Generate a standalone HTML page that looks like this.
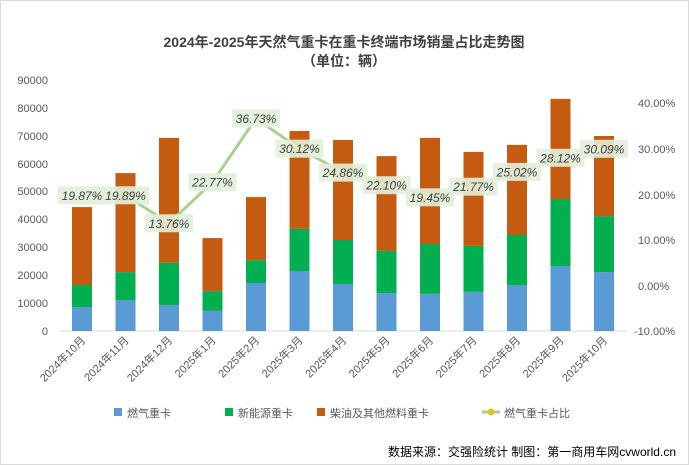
<!DOCTYPE html>
<html><head><meta charset="utf-8"><style>body{margin:0;background:#fff}svg{display:block}text{font-family:"Liberation Sans","Noto Sans CJK SC",sans-serif}</style></head><body>
<svg width="689" height="465" viewBox="0 0 689 465" xmlns="http://www.w3.org/2000/svg">
<rect x="0.5" y="0.5" width="688" height="464" fill="#fff" stroke="#d9d9d9"/>
<text x="344" y="47" text-anchor="middle" font-size="14" font-weight="bold" fill="#404040">2024年-2025年天然气重卡在重卡终端市场销量占比走势图</text>
<text x="344" y="66" text-anchor="middle" font-size="14" font-weight="bold" fill="#404040">（单位：辆）</text>
<g font-size="11" fill="#595959" text-anchor="end">
<text x="48" y="335">0</text><text x="48" y="307">10000</text><text x="48" y="279">20000</text><text x="48" y="251">30000</text><text x="48" y="223">40000</text><text x="48" y="195">50000</text><text x="48" y="168">60000</text><text x="48" y="140">70000</text><text x="48" y="112">80000</text><text x="48" y="84">90000</text>
</g>
<g font-size="11" fill="#595959">
<text x="638" y="107">40.00%</text><text x="638" y="153">30.00%</text><text x="638" y="199">20.00%</text><text x="638" y="244">10.00%</text><text x="638" y="290">0.00%</text><text x="634" y="335">-10.00%</text>
</g>
<line x1="60" y1="331" x2="626" y2="331" stroke="#d9d9d9"/>
<g>
<rect x="72" y="307" width="20" height="24" fill="#5b9bd5"/><rect x="72" y="285" width="20" height="22" fill="#00b050"/><rect x="72" y="207.1" width="20" height="77.9" fill="#c55a11"/>
<rect x="115.5" y="300" width="20" height="31" fill="#5b9bd5"/><rect x="115.5" y="272.1" width="20" height="27.9" fill="#00b050"/><rect x="115.5" y="173.1" width="20" height="99" fill="#c55a11"/>
<rect x="159" y="305.1" width="20" height="25.9" fill="#5b9bd5"/><rect x="159" y="262.9" width="20" height="42.2" fill="#00b050"/><rect x="159" y="137.9" width="20" height="125" fill="#c55a11"/>
<rect x="202.5" y="310.9" width="20" height="20.1" fill="#5b9bd5"/><rect x="202.5" y="291.1" width="20" height="19.8" fill="#00b050"/><rect x="202.5" y="238.1" width="20" height="53" fill="#c55a11"/>
<rect x="246" y="283" width="20" height="48" fill="#5b9bd5"/><rect x="246" y="260.1" width="20" height="22.9" fill="#00b050"/><rect x="246" y="197.1" width="20" height="63" fill="#c55a11"/>
<rect x="289.5" y="271" width="20" height="60" fill="#5b9bd5"/><rect x="289.5" y="228.9" width="20" height="42.1" fill="#00b050"/><rect x="289.5" y="131" width="20" height="97.9" fill="#c55a11"/>
<rect x="333" y="284.1" width="20" height="46.9" fill="#5b9bd5"/><rect x="333" y="240" width="20" height="44.1" fill="#00b050"/><rect x="333" y="139.9" width="20" height="100.1" fill="#c55a11"/>
<rect x="376.5" y="293.1" width="20" height="37.9" fill="#5b9bd5"/><rect x="376.5" y="250.9" width="20" height="42.2" fill="#00b050"/><rect x="376.5" y="156.1" width="20" height="94.8" fill="#c55a11"/>
<rect x="420" y="293.9" width="20" height="37.1" fill="#5b9bd5"/><rect x="420" y="244" width="20" height="49.9" fill="#00b050"/><rect x="420" y="137.9" width="20" height="106.1" fill="#c55a11"/>
<rect x="463.5" y="291.9" width="20" height="39.1" fill="#5b9bd5"/><rect x="463.5" y="245.9" width="20" height="46" fill="#00b050"/><rect x="463.5" y="151.9" width="20" height="94" fill="#c55a11"/>
<rect x="507" y="285" width="20" height="46" fill="#5b9bd5"/><rect x="507" y="235" width="20" height="50" fill="#00b050"/><rect x="507" y="144.9" width="20" height="90.1" fill="#c55a11"/>
<rect x="550.5" y="266" width="20" height="65" fill="#5b9bd5"/><rect x="550.5" y="199" width="20" height="67" fill="#00b050"/><rect x="550.5" y="98.9" width="20" height="100.1" fill="#c55a11"/>
<rect x="594" y="272.1" width="20" height="58.9" fill="#5b9bd5"/><rect x="594" y="216.1" width="20" height="56" fill="#00b050"/><rect x="594" y="136" width="20" height="80.1" fill="#c55a11"/>
</g>
<polyline points="82,195.4 125.5,195.3 169,223.3 212.5,182.2 256,118.5 299.5,148.7 343,172.6 386.5,185.2 430,197.3 473.5,186.7 517,171.9 560.5,157.8 604,148.8" fill="none" stroke="#a9d18e" stroke-width="3" stroke-linejoin="round"/>
<g font-size="12" font-style="italic" fill="#404040" text-anchor="middle">
<rect x="58" y="186.4" width="48" height="18" fill="#e2efda" opacity="0.9"/><text x="82" y="199.9">19.87%</text>
<rect x="101.5" y="186.3" width="48" height="18" fill="#e2efda" opacity="0.9"/><text x="125.5" y="199.8">19.89%</text>
<rect x="145" y="214.3" width="48" height="18" fill="#e2efda" opacity="0.9"/><text x="169" y="227.8">13.76%</text>
<rect x="188.5" y="173.2" width="48" height="18" fill="#e2efda" opacity="0.9"/><text x="212.5" y="186.7">22.77%</text>
<rect x="232" y="109.5" width="48" height="18" fill="#e2efda" opacity="0.9"/><text x="256" y="123">36.73%</text>
<rect x="275.5" y="139.7" width="48" height="18" fill="#e2efda" opacity="0.9"/><text x="299.5" y="153.2">30.12%</text>
<rect x="319" y="163.6" width="48" height="18" fill="#e2efda" opacity="0.9"/><text x="343" y="177.1">24.86%</text>
<rect x="362.5" y="176.2" width="48" height="18" fill="#e2efda" opacity="0.9"/><text x="386.5" y="189.7">22.10%</text>
<rect x="406" y="188.3" width="48" height="18" fill="#e2efda" opacity="0.9"/><text x="430" y="201.8">19.45%</text>
<rect x="449.5" y="177.7" width="48" height="18" fill="#e2efda" opacity="0.9"/><text x="473.5" y="191.2">21.77%</text>
<rect x="493" y="162.9" width="48" height="18" fill="#e2efda" opacity="0.9"/><text x="517" y="176.4">25.02%</text>
<rect x="536.5" y="148.8" width="48" height="18" fill="#e2efda" opacity="0.9"/><text x="560.5" y="162.3">28.12%</text>
<rect x="580" y="139.8" width="48" height="18" fill="#e2efda" opacity="0.9"/><text x="604" y="153.3">30.09%</text>
</g>
<g font-size="11" fill="#595959" text-anchor="end">
<text transform="translate(86,341) rotate(-45)">2024年10月</text>
<text transform="translate(129.5,341) rotate(-45)">2024年11月</text>
<text transform="translate(173,341) rotate(-45)">2024年12月</text>
<text transform="translate(216.5,341) rotate(-45)">2025年1月</text>
<text transform="translate(260,341) rotate(-45)">2025年2月</text>
<text transform="translate(303.5,341) rotate(-45)">2025年3月</text>
<text transform="translate(347,341) rotate(-45)">2025年4月</text>
<text transform="translate(390.5,341) rotate(-45)">2025年5月</text>
<text transform="translate(434,341) rotate(-45)">2025年6月</text>
<text transform="translate(477.5,341) rotate(-45)">2025年7月</text>
<text transform="translate(521,341) rotate(-45)">2025年8月</text>
<text transform="translate(564.5,341) rotate(-45)">2025年9月</text>
<text transform="translate(608,341) rotate(-45)">2025年10月</text>
</g>
<g font-size="11" fill="#595959">
<rect x="114" y="408" width="8" height="8" fill="#5b9bd5"/><text x="127" y="417">燃气重卡</text>
<rect x="225" y="408" width="8" height="8" fill="#00b050"/><text x="238" y="417">新能源重卡</text>
<rect x="317" y="408" width="8" height="8" fill="#c55a11"/><text x="330" y="417">柴油及其他燃料重卡</text>
<line x1="482" y1="412" x2="500" y2="412" stroke="#a9d18e" stroke-width="3"/><circle cx="491" cy="412" r="3.5" fill="#d4c52c"/><text x="504" y="417">燃气重卡占比</text>
</g>
<text x="676" y="456" text-anchor="end" font-size="12" fill="#000">数据来源：交强险统计  制图：第一商用车网cvworld.cn</text>
</svg>
</body></html>
